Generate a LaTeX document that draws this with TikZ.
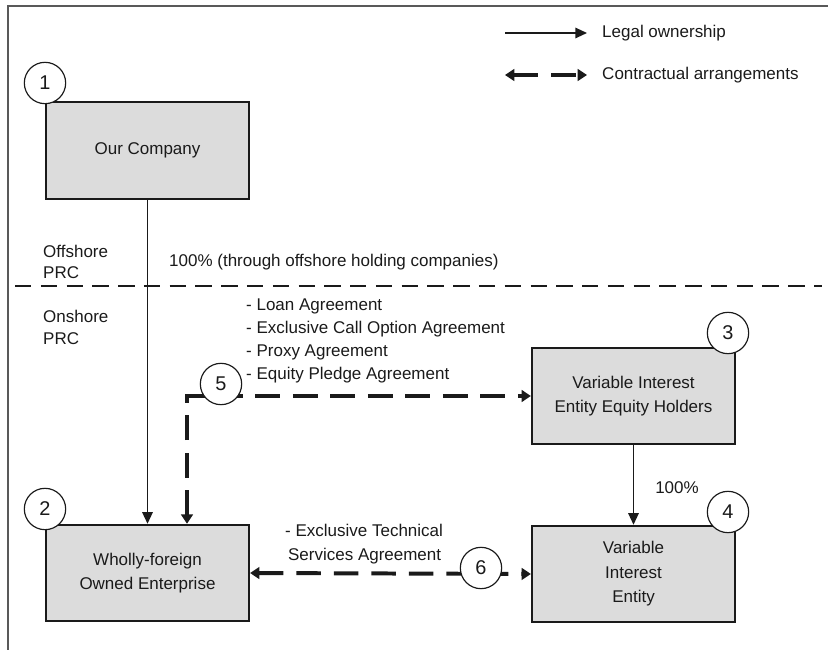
\documentclass[tikz,border=0pt]{standalone}
\usepackage{fontspec}
\setmainfont{Liberation Sans}
\usetikzlibrary{arrows.meta,positioning,calc}
\definecolor{boxgray}{HTML}{DCDCDC}
\definecolor{ink}{HTML}{1A1A1A}

\tikzset{
  entity/.style={draw=ink, line width=1.5pt, fill=boxgray, minimum width=6.1cm,
    minimum height=2.9cm, align=center, font=\fontsize{14.5}{21}\selectfont},
  tag/.style={circle, draw=ink, line width=1pt, fill=white, minimum size=1.24cm,
    inner sep=0pt, font=\fontsize{17}{17}\selectfont},
  txt/.style={inner sep=0pt, anchor=west, align=left},
  own/.style={draw=ink, line width=1.3pt, -{Triangle[length=10pt,width=9pt]}},
  contract/.style={draw=ink, line width=3.4pt, dash pattern=on 21pt off 11pt,
    {Triangle[length=8pt,width=10pt]}-{Triangle[length=8pt,width=10pt]}},
  sepline/.style={draw=ink, line width=2.4pt, dash pattern=on 14pt off 8pt}
}

\begin{document}
\begin{tikzpicture}[x=0.03cm, y=-0.03cm, font=\fontsize{14.5}{18.5}\selectfont, text=ink]
  \useasboundingbox (0,0) rectangle (828,650);
  % frame, left and top only
  \draw[line width=1.8pt, draw=gray!70!black] (8,650) |- (828,6);

  % legend
  \coordinate (lga) at (505,33);
  \coordinate (lgb) at (587,33);
  \coordinate (lca) at (505,75);
  \coordinate (lcb) at (587,75);
  \draw[own] (lga) -- (lgb);
  \draw[contract] (lca) -- (lcb);
  \node[txt] (lgown) at (602,33) {Legal ownership};
  \node[txt] (lgcon) at (602,75) {Contractual arrangements};

  % offshore / onshore split
  \coordinate (sepl) at (15,286);
  \coordinate (sepr) at (822,286);
  \draw[sepline] (sepl) -- (sepr);
  \node[txt] (off) at (43,262) {Offshore\\PRC};
  \node[txt] (on) at (43,327.5) {Onshore\\PRC};
  \node[txt] (hold) at (169,262) {100\% (through offshore holding companies)};

  % entities
  \node[entity] (comp) at (147.5,150.5) {Our Company};
  \node[entity] (wfoe) at (147.5,573) {Wholly-foreign\\Owned Enterprise};
  \node[entity] (vieeh) at (633.5,396) {Variable Interest\\Entity Equity Holders};
  \node[entity] (vie) at (633.5,574) {Variable\\Interest\\Entity};

  % ownership
  \draw[own] (comp.south) -- (wfoe.north);
  \draw[own] (vieeh.south) -- (vie.north);
  \node (p100) at (677,488) {100\%};

  % contracts
  \coordinate (k5) at (187,397);
  \draw[contract] (wfoe.north -| k5) |- (vieeh.west);
  \draw[contract] (wfoe.east) -- (vie.west);
  \node[txt, font=\fontsize{14.5}{19.5}\selectfont] (agr) at (246,341)
    {- Loan Agreement\\- Exclusive Call Option Agreement\\- Proxy Agreement\\- Equity Pledge Agreement};
  \node[txt, font=\fontsize{14.5}{20.5}\selectfont] (tech) at (285,544)
    {- Exclusive Technical\\\hspace*{2.5pt}Services Agreement};

  % numbered tags
  \node[tag] (n1) at (45,83) {1};
  \node[tag] (n2) at (45,509) {2};
  \node[tag] (n3) at (728,333) {3};
  \node[tag] (n4) at (728,512) {4};
  \node[tag] (n5) at (221,384) {5};
  \node[tag] (n6) at (481,568) {6};
\end{tikzpicture}
\end{document}
